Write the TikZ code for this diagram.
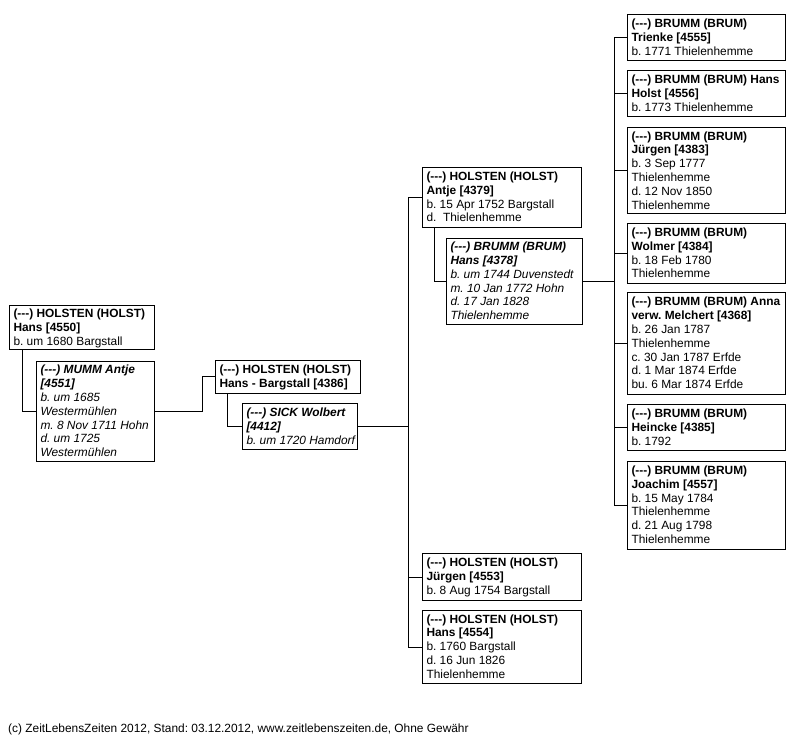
\documentclass[tikz,border=0pt]{standalone}
\usepackage{fontspec}
\setmainfont{Liberation Sans}[Ligatures=TeXOff]
\frenchspacing
\newcommand\famtext[2]{\makebox[#1pt][l]{\raisebox{-1pt}[\height][\depth]{\begin{tabular}{@{}l@{}}#2\end{tabular}}}}
\begin{document}
\frenchspacing
\begin{tikzpicture}[x=1pt,y=-1pt,
  person/.style={draw, line width=1pt, anchor=north west, inner xsep=4pt, inner ysep=0pt,
    font=\fontsize{11.9}{13.8}\selectfont},
  link/.style={line width=1pt},
  foottext/.style={anchor=base west, inner sep=0pt, font=\fontsize{11.9}{13.8}\selectfont}]
\fill[white] (0,0) rectangle (804,743);
\useasboundingbox (0,0) rectangle (804,743);

% generation left
\node[person, minimum height=44pt] (A) at (9,305) {\famtext{137}{\textbf{(---) HOLSTEN (HOLST)}\\ \textbf{Hans [4550]}\\ b. um 1680 Bargstall}};
\node[person, minimum height=100pt] (B) at (36,361) {\famtext{110}{\textbf{\textit{(---) MUMM Antje}}\\ \textbf{\textit{[4551]}}\\ \textit{b. um 1685}\\ \textit{Westermühlen}\\ \textit{m. 8 Nov 1711 Hohn}\\ \textit{d. um 1725}\\ \textit{Westermühlen}}};

\node[person, minimum height=33pt] (C) at (215,360) {\famtext{137}{\textbf{(---) HOLSTEN (HOLST)}\\ \textbf{Hans - Bargstall [4386]}}};
\node[person, minimum height=46pt] (D) at (242,403) {\famtext{107}{\textbf{\textit{(---) SICK Wolbert}}\\ \textbf{\textit{[4412]}}\\ \textit{b. um 1720 Hamdorf}}};

\node[person, minimum height=60pt] (E) at (422,167) {\famtext{151}{\textbf{(---) HOLSTEN (HOLST)}\\ \textbf{Antje [4379]}\\ b. 15 Apr 1752 Bargstall\\ d.\ \ Thielenhemme}};
\node[person, minimum height=86pt] (F) at (446,238) {\famtext{128}{\textbf{\textit{(---) BRUMM (BRUM)}}\\ \textbf{\textit{Hans [4378]}}\\ \textit{b. um 1744 Duvenstedt}\\ \textit{m. 10 Jan 1772 Hohn}\\ \textit{d. 17 Jan 1828}\\ \textit{Thielenhemme}}};

\node[person, minimum height=47pt] (H1) at (422,553) {\famtext{151}{\textbf{(---) HOLSTEN (HOLST)}\\ \textbf{Jürgen [4553]}\\ b. 8 Aug 1754 Bargstall}};
\node[person, minimum height=73pt] (H2) at (422,610) {\famtext{151}{\textbf{(---) HOLSTEN (HOLST)}\\ \textbf{Hans [4554]}\\ b. 1760 Bargstall\\ d. 16 Jun 1826\\ Thielenhemme}};

% children column
\node[person, minimum height=46pt] (G1) at (627,14) {\famtext{150}{\textbf{(---) BRUMM (BRUM)}\\ \textbf{Trienke [4555]}\\ b. 1771 Thielenhemme}};
\node[person, minimum height=46pt] (G2) at (627,70) {\famtext{150}{\textbf{(---) BRUMM (BRUM) Hans}\\ \textbf{Holst [4556]}\\ b. 1773 Thielenhemme}};
\node[person, minimum height=86.5pt] (G3) at (627,127) {\famtext{150}{\textbf{(---) BRUMM (BRUM)}\\ \textbf{Jürgen [4383]}\\ b. 3 Sep 1777\\ Thielenhemme\\ d. 12 Nov 1850\\ Thielenhemme}};
\node[person, minimum height=60pt] (G4) at (627,223) {\famtext{150}{\textbf{(---) BRUMM (BRUM)}\\ \textbf{Wolmer [4384]}\\ b. 18 Feb 1780\\ Thielenhemme}};
\node[person, minimum height=102pt] (G5) at (627,292) {\famtext{150}{\textbf{(---) BRUMM (BRUM) Anna}\\ \textbf{verw. Melchert [4368]}\\ b. 26 Jan 1787\\ Thielenhemme\\ c. 30 Jan 1787 Erfde\\ d. 1 Mar 1874 Erfde\\ bu. 6 Mar 1874 Erfde}};
\node[person, minimum height=46pt] (G6) at (627,404) {\famtext{150}{\textbf{(---) BRUMM (BRUM)}\\ \textbf{Heincke [4385]}\\ b. 1792}};
\node[person, minimum height=87.5pt] (G7) at (627,461) {\famtext{150}{\textbf{(---) BRUMM (BRUM)}\\ \textbf{Joachim [4557]}\\ b. 15 May 1784\\ Thielenhemme\\ d. 21 Aug 1798\\ Thielenhemme}};

% junction coordinates
\coordinate (j1) at (202,0);
\coordinate (j2) at (408,0);
\coordinate (j3) at (614,0);

% connectors
\draw[link] ([xshift=13pt]A.south west) |- (B.west);
\draw[link] (B.east) -| (j1 |- C.west) -- (C.west);
\draw[link] ([xshift=12pt]C.south west) |- (D.west);
\draw[link] (D.east) -- (D.east -| j2);
\draw[link] (E.west) -| (j2 |- H2.west) -- (H2.west);
\draw[link] (H1.west) -- (H1.west -| j2);
\draw[link] ([xshift=12pt]E.south west) |- (F.west);
\draw[link] (F.east) -- (F.east -| j3);
\draw[link] (G1.west) -| (j3 |- G7.west) -- (G7.west);
\foreach \g in {G2,G3,G4,G5,G6} {\draw[link] (\g.west) -- (\g.west -| j3);}

% footer
\node[foottext] (foot) at (8,732) {(c) ZeitLebensZeiten 2012, Stand: 03.12.2012, www.zeitlebenszeiten.de, Ohne Gewähr};
\end{tikzpicture}
\end{document}
